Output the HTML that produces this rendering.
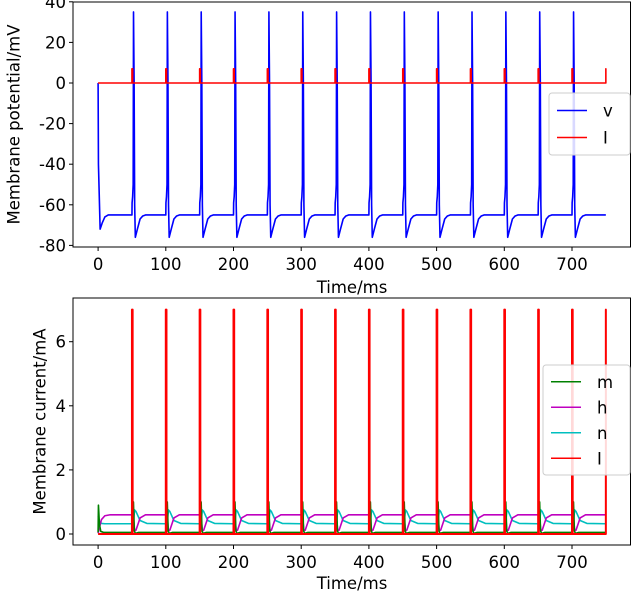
<!DOCTYPE html>
<html><head><meta charset="utf-8"><style>
body{margin:0;background:#fff;font-family:"Liberation Sans","DejaVu Sans",sans-serif;}
svg text{font-family:"DejaVu Sans","Liberation Sans",sans-serif;}
</style></head><body>
<svg id="c" width="637" height="598" xmlns="http://www.w3.org/2000/svg"></svg>
<script>
const stimTimes=[50,100,150,200,250,300,350,400,450,500,550,600,650,700,750];
const stimAmp=7;
const stimWidth=1;
const vInitDt=[0,0.5,3,6,10,15];
const vInitVal=[0,-40,-72,-69,-66,-65];
const vSpikeDt=[0,0.2,1,1.8,2.3,3.2,4,5,8,12,16,20];
const vSpikeVal=[-65,-59,-56,-50,35,0,-60,-76,-72,-67,-65.5,-65];
const mInitDt=[0,0.5,2,4,8];const mInitVal=[0.05,0.9,0.3,0.08,0.05];
const hInitDt=[0,2,5,10,18];const hInitVal=[0.02,0.2,0.45,0.57,0.6];
const nInitDt=[0,2,5,10];const nInitVal=[0.55,0.4,0.33,0.32];
const mDt=[0,1.5,2.2,3.5,5,10];const mVal=[0.05,0.2,1.0,0.1,0.02,0.05];
const hDt=[0,2,4,6,12,20];const hVal=[0.6,0.55,0.1,0.12,0.5,0.6];
const nDt=[0,2,4,6,12,22];const nVal=[0.32,0.35,0.75,0.7,0.42,0.33];
const xTicks=[0,100,200,300,400,500,600,700];
const yTopTicks=[40,20,0,-20,-40,-60,-80];
const yBotTicks=[0,2,4,6];

const NS="http://www.w3.org/2000/svg",svg=document.getElementById('c');
function el(t,a,p){const e=document.createElementNS(NS,t);for(const k in a)e.setAttribute(k,a[k]);(p||svg).appendChild(e);return e;}
const X=t=>98.1+t*0.677;
const axTop={x0:73,x1:630.5,y0:2,y1:247,Y:v=>83-v*2.03,lx:14,xly:293};
const axBot={x0:73,x1:630.5,y0:298,y1:545,Y:v=>534-v*32.05,lx:40,xly:589};
function build(init,initDt,dt,val){
  const pts=[];init.forEach((v,i)=>pts.push([initDt[i],v]));
  stimTimes.forEach(ts=>{const n=ts<750?dt.length:3;for(let i=0;i<n;i++){if(ts+dt[i]<=750)pts.push([ts+dt[i],val[i]]);}});
  if(pts[pts.length-1][0]<750)pts.push([750,pts[pts.length-1][1]]);
  return pts;
}
function path(pts,ax,color,name,w){const d=pts.map((p,i)=>(i?'L':'M')+X(p[0]).toFixed(2)+' '+ax.Y(p[1]).toFixed(2)).join(' ');
  const e=el('path',{d,fill:'none',stroke:color,'stroke-width':w||1.6,'stroke-linejoin':'round'});
  
  }
function current(){const pts=[[0,0]];stimTimes.forEach(ts=>{pts.push([ts,0],[ts,stimAmp],[Math.min(ts+stimWidth,750),stimAmp],[Math.min(ts+stimWidth,750),0]);});return pts;}
function axes(ax,yt,ylabel,nm){
  const g=el('g',{});
  
  
  el('rect',{x:ax.x0,y:ax.y0,width:ax.x1-ax.x0,height:ax.y1-ax.y0,fill:'none',stroke:'#000','stroke-width':1},g);
  xTicks.forEach(t=>{el('line',{x1:X(t),x2:X(t),y1:ax.y1,y2:ax.y1+4,stroke:'#000'},g);
    const tx=el('text',{x:X(t),y:ax.y1+23,'font-size':16.5,'text-anchor':'middle'},g);tx.textContent=t;
    
    });
  yt.forEach(t=>{el('line',{x1:ax.x0-4,x2:ax.x0,y1:ax.Y(t),y2:ax.Y(t),stroke:'#000'},g);
    const tx=el('text',{x:ax.x0-7,y:ax.Y(t)+6,'font-size':16.5,'text-anchor':'end'},g);tx.textContent=t;
    
    });
  const xl=el('text',{x:352,y:ax.xly,'font-size':16.5,'text-anchor':'middle'},g);xl.textContent='Time/ms';
  
  
  const cy=(ax.y0+ax.y1)/2;
  const yl=el('text',{x:ax.lx,y:cy,'font-size':16.5,'text-anchor':'middle','dominant-baseline':'central',transform:`rotate(-90 ${ax.lx} ${cy})`},g);yl.textContent=ylabel;
  
  
}
function legend(x,y,w,h,items,nm){const g=el('g',{});
  
  
  el('rect',{x,y,width:w,height:h,rx:3,fill:'#fff','fill-opacity':0.85,stroke:'#ccc'},g);
  const step=(h-8)/items.length;
  items.forEach((it,i)=>{const yy=y+4+step*(i+0.5);el('line',{x1:x+8,x2:x+38,y1:yy,y2:yy,stroke:it[1],'stroke-width':1.6},g);
    const t=el('text',{x:x+54,y:yy+6,'font-size':16.5},g);t.textContent=it[0];
    
    });}

axes(axTop,yTopTicks,'Membrane potential/mV','top-axes');
path(build(vInitVal,vInitDt,vSpikeDt,vSpikeVal),axTop,'#0000ff','v-line');
path(current(),axTop,'#ff0000','i-line-top');
legend(549,93,81,62,[['v','#0000ff'],['I','#ff0000']],'top-legend');

axes(axBot,yBotTicks,'Membrane current/mA','bottom-axes');
path(build(nInitVal,nInitDt,nDt,nVal),axBot,'#00bfbf','n-line');
path(build(hInitVal,hInitDt,hDt,hVal),axBot,'#bf00bf','h-line');
path(build(mInitVal,mInitDt,mDt,mVal),axBot,'#008000','m-line');
path(current(),axBot,'#ff0000','i-line-bottom',2);
legend(543,365,87,110,[['m','#008000'],['h','#bf00bf'],['n','#00bfbf'],['I','#ff0000']],'bottom-legend');
</script>
</body></html>
